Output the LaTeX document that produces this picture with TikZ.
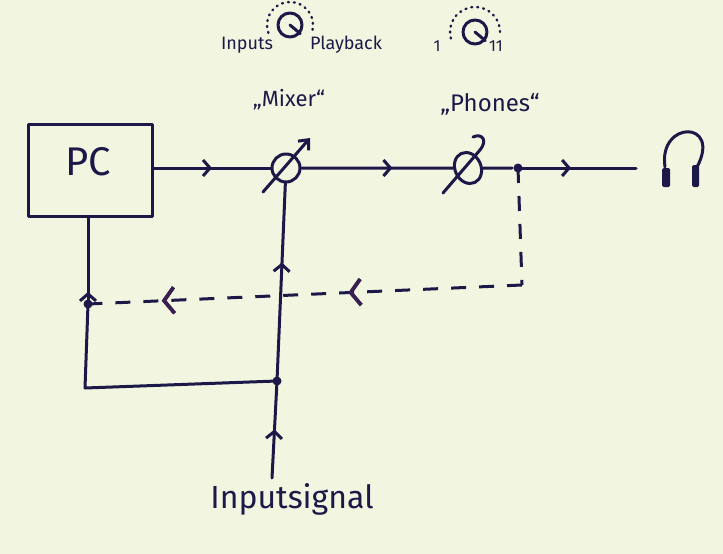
\documentclass[tikz,border=0pt]{standalone}
\usepackage{fontspec}
\setmainfont{Fira Sans}
\usetikzlibrary{arrows.meta,decorations.markings,shapes.geometric}
\definecolor{ink}{HTML}{1C1848}
\definecolor{inkp}{HTML}{3A2050}
\definecolor{paper}{HTML}{F2F6E0}
\begin{document}
\begin{tikzpicture}[x=1pt,y=-1pt,line width=3pt,color=ink,line cap=round,line join=round,
  midarrow/.style={postaction={decorate},decoration={markings,
    mark=at position #1 with {\arrow{Straight Barb[length=7pt,width=16pt]}}}},
  bigarrow/.style={postaction={decorate},decoration={markings,
    mark=at position #1 with {\arrow[inkp,line width=3.6pt]{Straight Barb[length=10pt,width=26pt]}}}},
  dashline/.style={dash pattern=on 15pt off 13pt,line cap=butt},
  dotted arc/.style={line width=2.4pt,dash pattern=on 1pt off 5pt,line cap=round},
  jdot/.style={circle,fill=ink,draw=none,inner sep=0pt,minimum size=9pt},
  box/.style={rectangle,draw,minimum width=124pt,minimum height=92pt,inner sep=0pt},
  pot/.style={circle,draw,minimum size=28pt,inner sep=0pt},
  label/.style={inner sep=0pt,font=\fontsize{#1}{#1}\selectfont}]
\fill[paper] (0,0) rectangle (723,554);
\useasboundingbox (0,0) rectangle (723,554);

% PC box
\node[box] (pc) at (90,170) {};
\node[label=40] (pctext) at (88,162) {PC};

% pots
\node[pot] (mixer) at (286,168) {};
\node[ellipse,draw,minimum width=26pt,minimum height=32pt,inner sep=0pt,rotate=25] (phones) at (468,168) {};
\draw[-{Straight Barb[length=8pt,width=14pt]}] (263,192) -- (310,138);
\draw (443,193) -- (480,150) .. controls (488,140) and (482,133) .. (473,137);

% labels above
\node[label=22] (mixlbl) at (289,100) {„Mixer“};
\node[label=24] (phlbl) at (490,104) {„Phones“};
\node[label=18] (inlbl) at (247,45) {Inputs};
\node[label=18] (pblbl) at (346,45) {Playback};
\node[label=16] (one) at (437,46) {1};
\node[label=16] (eleven) at (496,46) {11};

% knobs
\node[circle,draw,minimum size=24pt,inner sep=0pt] (knobA) at (290,25) {};
\draw (knobA.center) -- (knobA.-40);
\draw[dotted arc] (knobA.center) ++(160:23) arc (160:380:23);
\node[circle,draw,minimum size=24pt,inner sep=0pt] (knobB) at (475,32) {};
\draw (knobB.center) -- (knobB.-40);
\draw[dotted arc] (knobB.center) ++(165:25) arc (165:370:25);

% coordinates
\coordinate (pcout) at (pc.east |- mixer);
\coordinate (jn) at (518,168);
\coordinate (lineend) at (636,168);
\coordinate (dcorner) at (522,285);
\node[jdot] (ldot) at (88,304) {};
\node[jdot] (bdot) at (277,381) {};
\node[jdot] (jdot) at (jn) {};
\coordinate (lcorner) at (85,388);
\coordinate (insig) at (272,478);
\coordinate (pcbot) at (ldot |- pc.south);

% main line
\draw[midarrow=0.5] (pcout) -- (mixer);
\draw[midarrow=0.6] (mixer) -- (phones);
\draw (phones) -- (jdot);
\draw[midarrow=0.45] (jdot.center) -- (lineend);

% feedback (dashed)
\draw[dashline] (jdot.center) -- (dcorner);
\draw[dashline,bigarrow=0.4,bigarrow=0.83] (dcorner) -- (ldot.center);

% left loop
\draw[midarrow=0.14] (ldot.center) -- (pcbot);
\draw (bdot.center) -- (lcorner) -- (ldot.center);

% input line
\draw[midarrow=0.6] (bdot.center) -- (mixer);
\draw[midarrow=0.5] (insig) -- (bdot.center);
\node[label=32,anchor=north] (inputsig) at (292,482) {Inputsignal};

% headphones
\node[draw=none,minimum width=40pt,minimum height=52pt] (hp) at (680,161) {};
\draw (665,167) .. controls (658,120) and (722,120) .. (697,167);
\fill[rounded corners=1.5pt] (662,168) rectangle (670,187);
\fill[rounded corners=1.5pt] (692,165) rectangle (699,187);
\end{tikzpicture}
\end{document}
